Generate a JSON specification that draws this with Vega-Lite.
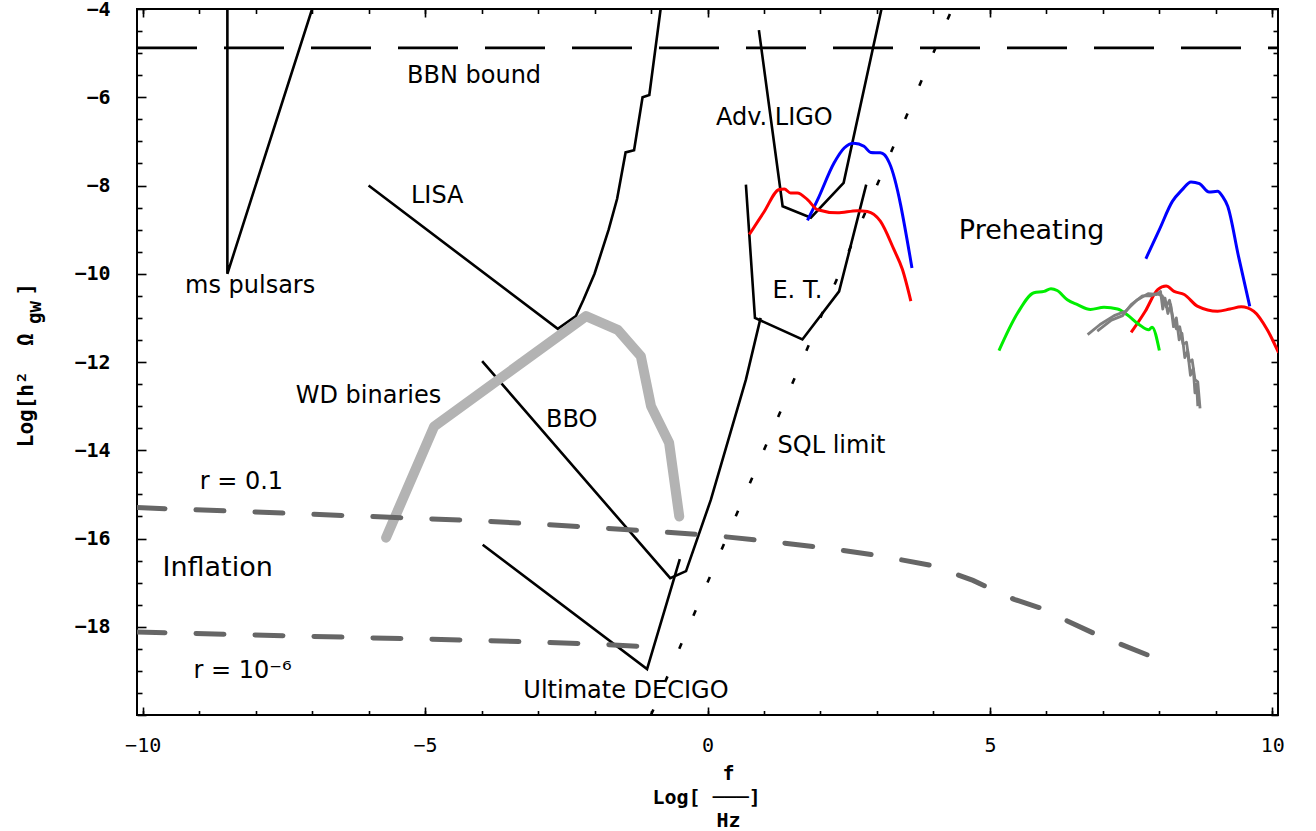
{
  "$schema": "https://vega.github.io/schema/vega-lite/v6.json",
  "width": 1141,
  "height": 706,
  "autosize": {"type": "none"},
  "padding": {"left": 137, "top": 9, "right": 38, "bottom": 116},
  "background": "white",
  "config": {
    "view": {"stroke": "black", "strokeWidth": 2},
    "axis": {"grid": false, "domain": false, "tickColor": "black", "tickWidth": 1.6, "labelColor": "black", "titleColor": "black",
      "titleFont": "DejaVu Sans Mono", "titleFontWeight": "bold"}
  },
  "datasets": {
    "curves": [
      {"s": "ms", "i": 0, "x": -8.5, "y": -4},
      {"s": "ms", "i": 1, "x": -8.5, "y": -10},
      {"s": "ms", "i": 2, "x": -7.0, "y": -4},

      {"s": "LISA", "i": 0, "x": -6.0, "y": -8.0},
      {"s": "LISA", "i": 1, "x": -2.65, "y": -11.25},
      {"s": "LISA", "i": 2, "x": -2.33, "y": -10.96},
      {"s": "LISA", "i": 3, "x": -2.2, "y": -10.6},
      {"s": "LISA", "i": 4, "x": -2.0, "y": -10.0},
      {"s": "LISA", "i": 5, "x": -1.75, "y": -9.0},
      {"s": "LISA", "i": 6, "x": -1.6, "y": -8.3},
      {"s": "LISA", "i": 7, "x": -1.45, "y": -7.25},
      {"s": "LISA", "i": 8, "x": -1.3, "y": -7.2},
      {"s": "LISA", "i": 9, "x": -1.15, "y": -6.0},
      {"s": "LISA", "i": 10, "x": -1.03, "y": -5.95},
      {"s": "LISA", "i": 11, "x": -0.83, "y": -4.0},

      {"s": "AdvLIGO", "i": 0, "x": 0.91, "y": -4.48},
      {"s": "AdvLIGO", "i": 1, "x": 1.33, "y": -8.47},
      {"s": "AdvLIGO", "i": 2, "x": 1.83, "y": -8.73},
      {"s": "AdvLIGO", "i": 3, "x": 2.41, "y": -7.94},
      {"s": "AdvLIGO", "i": 4, "x": 3.08, "y": -4.0},

      {"s": "ET", "i": 0, "x": 0.68, "y": -7.98},
      {"s": "ET", "i": 1, "x": 0.84, "y": -11.0},
      {"s": "ET", "i": 2, "x": 1.68, "y": -11.49},
      {"s": "ET", "i": 3, "x": 2.33, "y": -10.4},
      {"s": "ET", "i": 4, "x": 2.81, "y": -7.98},

      {"s": "BBO", "i": 0, "x": -3.99, "y": -11.98},
      {"s": "BBO", "i": 1, "x": -0.66, "y": -16.9},
      {"s": "BBO", "i": 2, "x": -0.38, "y": -16.74},
      {"s": "BBO", "i": 3, "x": 0.06, "y": -15.12},
      {"s": "BBO", "i": 4, "x": 0.68, "y": -12.4},
      {"s": "BBO", "i": 5, "x": 0.94, "y": -11.0},

      {"s": "DECIGO", "i": 0, "x": -3.98, "y": -16.14},
      {"s": "DECIGO", "i": 1, "x": -1.07, "y": -18.96},
      {"s": "DECIGO", "i": 2, "x": -0.49, "y": -16.47},

      {"s": "BBN", "i": 0, "x": -10.1, "y": -4.88},
      {"s": "BBN", "i": 1, "x": 10.1, "y": -4.88},

      {"s": "SQL", "i": 0, "x": -1.0, "y": -20.0},
      {"s": "SQL", "i": 1, "x": 4.33, "y": -4.0},

      {"s": "WD", "i": 0, "x": -5.69, "y": -15.98},
      {"s": "WD", "i": 1, "x": -4.84, "y": -13.46},
      {"s": "WD", "i": 2, "x": -2.15, "y": -10.96},
      {"s": "WD", "i": 3, "x": -1.59, "y": -11.27},
      {"s": "WD", "i": 4, "x": -1.18, "y": -11.87},
      {"s": "WD", "i": 5, "x": -1.0, "y": -13.0},
      {"s": "WD", "i": 6, "x": -0.68, "y": -13.83},
      {"s": "WD", "i": 7, "x": -0.5, "y": -15.5},

      {"s": "r01", "i": 0, "x": -10.1, "y": -15.3},
      {"s": "r01", "i": 1, "x": -8.0, "y": -15.4},
      {"s": "r01", "i": 2, "x": -6.0, "y": -15.5},
      {"s": "r01", "i": 3, "x": -4.0, "y": -15.6},
      {"s": "r01", "i": 4, "x": -2.0, "y": -15.75},
      {"s": "r01", "i": 5, "x": 0.0, "y": -15.92},
      {"s": "r01", "i": 6, "x": 1.0, "y": -16.05},
      {"s": "r01", "i": 7, "x": 2.0, "y": -16.2},
      {"s": "r01", "i": 8, "x": 3.0, "y": -16.38},
      {"s": "r01", "i": 9, "x": 4.0, "y": -16.62},
      {"s": "r01", "i": 10, "x": 4.7, "y": -16.95},
      {"s": "r01", "i": 11, "x": 5.43, "y": -17.38},
      {"s": "r01", "i": 12, "x": 5.93, "y": -17.59},
      {"s": "r01", "i": 13, "x": 6.37, "y": -17.87},
      {"s": "r01", "i": 14, "x": 6.86, "y": -18.16},
      {"s": "r01", "i": 15, "x": 7.32, "y": -18.4},
      {"s": "r01", "i": 16, "x": 7.85, "y": -18.67},

      {"s": "r1e6", "i": 0, "x": -10.1, "y": -18.12},
      {"s": "r1e6", "i": 1, "x": -6.0, "y": -18.25},
      {"s": "r1e6", "i": 2, "x": -4.0, "y": -18.31},
      {"s": "r1e6", "i": 3, "x": -2.0, "y": -18.39},
      {"s": "r1e6", "i": 4, "x": -1.24, "y": -18.44},

      {"s": "blue1", "i": 0, "x": 1.77, "y": -8.79},
      {"s": "blue1", "i": 1, "x": 1.95, "y": -8.32},
      {"s": "blue1", "i": 2, "x": 2.24, "y": -7.49},
      {"s": "blue1", "i": 3, "x": 2.42, "y": -7.15},
      {"s": "blue1", "i": 4, "x": 2.59, "y": -7.04},
      {"s": "blue1", "i": 5, "x": 2.77, "y": -7.11},
      {"s": "blue1", "i": 6, "x": 2.89, "y": -7.25},
      {"s": "blue1", "i": 7, "x": 3.06, "y": -7.26},
      {"s": "blue1", "i": 8, "x": 3.13, "y": -7.3},
      {"s": "blue1", "i": 9, "x": 3.22, "y": -7.49},
      {"s": "blue1", "i": 10, "x": 3.62, "y": -9.87},

      {"s": "red1", "i": 0, "x": 0.74, "y": -9.11},
      {"s": "red1", "i": 1, "x": 1.0, "y": -8.6},
      {"s": "red1", "i": 2, "x": 1.27, "y": -8.09},
      {"s": "red1", "i": 3, "x": 1.36, "y": -8.08},
      {"s": "red1", "i": 4, "x": 1.47, "y": -8.17},
      {"s": "red1", "i": 5, "x": 1.59, "y": -8.17},
      {"s": "red1", "i": 6, "x": 1.77, "y": -8.32},
      {"s": "red1", "i": 7, "x": 1.95, "y": -8.55},
      {"s": "red1", "i": 8, "x": 2.3, "y": -8.62},
      {"s": "red1", "i": 9, "x": 2.65, "y": -8.57},
      {"s": "red1", "i": 10, "x": 2.83, "y": -8.59},
      {"s": "red1", "i": 11, "x": 3.06, "y": -8.81},
      {"s": "red1", "i": 12, "x": 3.3, "y": -9.45},
      {"s": "red1", "i": 13, "x": 3.45, "y": -9.9},
      {"s": "red1", "i": 14, "x": 3.6, "y": -10.62},

      {"s": "blue2", "i": 0, "x": 7.76, "y": -9.66},
      {"s": "blue2", "i": 1, "x": 8.0, "y": -9.0},
      {"s": "blue2", "i": 2, "x": 8.23, "y": -8.36},
      {"s": "blue2", "i": 3, "x": 8.4, "y": -8.1},
      {"s": "blue2", "i": 4, "x": 8.56, "y": -7.92},
      {"s": "blue2", "i": 5, "x": 8.71, "y": -7.96},
      {"s": "blue2", "i": 6, "x": 8.88, "y": -8.15},
      {"s": "blue2", "i": 7, "x": 9.03, "y": -8.13},
      {"s": "blue2", "i": 8, "x": 9.12, "y": -8.25},
      {"s": "blue2", "i": 9, "x": 9.21, "y": -8.47},
      {"s": "blue2", "i": 10, "x": 9.4, "y": -9.6},
      {"s": "blue2", "i": 11, "x": 9.6, "y": -10.74},

      {"s": "red2", "i": 0, "x": 7.5, "y": -11.33},
      {"s": "red2", "i": 1, "x": 7.75, "y": -10.85},
      {"s": "red2", "i": 2, "x": 7.97, "y": -10.36},
      {"s": "red2", "i": 3, "x": 8.12, "y": -10.28},
      {"s": "red2", "i": 4, "x": 8.26, "y": -10.4},
      {"s": "red2", "i": 5, "x": 8.44, "y": -10.47},
      {"s": "red2", "i": 6, "x": 8.68, "y": -10.74},
      {"s": "red2", "i": 7, "x": 9.03, "y": -10.85},
      {"s": "red2", "i": 8, "x": 9.25, "y": -10.8},
      {"s": "red2", "i": 9, "x": 9.45, "y": -10.75},
      {"s": "red2", "i": 10, "x": 9.67, "y": -10.85},
      {"s": "red2", "i": 11, "x": 9.91, "y": -11.27},
      {"s": "red2", "i": 12, "x": 10.11, "y": -11.79},

      {"s": "green", "i": 0, "x": 5.16, "y": -11.74},
      {"s": "green", "i": 1, "x": 5.49, "y": -10.89},
      {"s": "green", "i": 2, "x": 5.78, "y": -10.43},
      {"s": "green", "i": 3, "x": 5.96, "y": -10.4},
      {"s": "green", "i": 4, "x": 6.08, "y": -10.34},
      {"s": "green", "i": 5, "x": 6.19, "y": -10.38},
      {"s": "green", "i": 6, "x": 6.37, "y": -10.59},
      {"s": "green", "i": 7, "x": 6.55, "y": -10.7},
      {"s": "green", "i": 8, "x": 6.78, "y": -10.81},
      {"s": "green", "i": 9, "x": 7.02, "y": -10.76},
      {"s": "green", "i": 10, "x": 7.26, "y": -10.8},
      {"s": "green", "i": 11, "x": 7.43, "y": -10.93},
      {"s": "green", "i": 12, "x": 7.64, "y": -11.15},
      {"s": "green", "i": 13, "x": 7.81, "y": -11.27},
      {"s": "green", "i": 14, "x": 7.87, "y": -11.21},
      {"s": "green", "i": 15, "x": 8.0, "y": -11.74},

      {"s": "gray1", "i": 0, "x": 6.73, "y": -11.38},
      {"s": "gray1", "i": 1, "x": 6.95, "y": -11.15},
      {"s": "gray1", "i": 2, "x": 7.2, "y": -10.95},
      {"s": "gray1", "i": 3, "x": 7.4, "y": -10.85},
      {"s": "gray1", "i": 4, "x": 7.6, "y": -10.6},
      {"s": "gray1", "i": 5, "x": 7.8, "y": -10.45},
      {"s": "gray1", "i": 6, "x": 7.95, "y": -10.47},
      {"s": "gray1", "i": 7, "x": 8.02, "y": -10.4},
      {"s": "gray1", "i": 8, "x": 8.06, "y": -10.8},
      {"s": "gray1", "i": 9, "x": 8.1, "y": -10.55},
      {"s": "gray1", "i": 10, "x": 8.15, "y": -10.9},
      {"s": "gray1", "i": 11, "x": 8.2, "y": -10.7},
      {"s": "gray1", "i": 12, "x": 8.25, "y": -11.2},
      {"s": "gray1", "i": 13, "x": 8.3, "y": -11.0},
      {"s": "gray1", "i": 14, "x": 8.35, "y": -11.5},
      {"s": "gray1", "i": 15, "x": 8.4, "y": -11.35},
      {"s": "gray1", "i": 16, "x": 8.45, "y": -11.9},
      {"s": "gray1", "i": 17, "x": 8.5, "y": -11.75},
      {"s": "gray1", "i": 18, "x": 8.55, "y": -12.3},
      {"s": "gray1", "i": 19, "x": 8.6, "y": -12.15},
      {"s": "gray1", "i": 20, "x": 8.63, "y": -12.7},
      {"s": "gray1", "i": 21, "x": 8.66, "y": -12.5},
      {"s": "gray1", "i": 22, "x": 8.68, "y": -13.0},

      {"s": "gray2", "i": 0, "x": 6.9, "y": -11.3},
      {"s": "gray2", "i": 1, "x": 7.15, "y": -11.05},
      {"s": "gray2", "i": 2, "x": 7.35, "y": -10.95},
      {"s": "gray2", "i": 3, "x": 7.5, "y": -10.7},
      {"s": "gray2", "i": 4, "x": 7.7, "y": -10.5},
      {"s": "gray2", "i": 5, "x": 7.85, "y": -10.5},
      {"s": "gray2", "i": 6, "x": 7.95, "y": -10.45},
      {"s": "gray2", "i": 7, "x": 8.05, "y": -10.5},
      {"s": "gray2", "i": 8, "x": 8.12, "y": -10.75},
      {"s": "gray2", "i": 9, "x": 8.18, "y": -10.6},
      {"s": "gray2", "i": 10, "x": 8.24, "y": -11.0},
      {"s": "gray2", "i": 11, "x": 8.3, "y": -11.25},
      {"s": "gray2", "i": 12, "x": 8.36, "y": -11.2},
      {"s": "gray2", "i": 13, "x": 8.42, "y": -11.6},
      {"s": "gray2", "i": 14, "x": 8.48, "y": -11.55},
      {"s": "gray2", "i": 15, "x": 8.53, "y": -12.0},
      {"s": "gray2", "i": 16, "x": 8.58, "y": -11.95},
      {"s": "gray2", "i": 17, "x": 8.63, "y": -12.4},
      {"s": "gray2", "i": 18, "x": 8.68, "y": -12.45},
      {"s": "gray2", "i": 19, "x": 8.72, "y": -13.05}
    ],
    "labels": [
      {"label": "BBN bound", "kind": "detector", "x": -5.32, "y": -5.67},
      {"label": "LISA", "kind": "detector", "x": -5.25, "y": -8.4},
      {"label": "ms pulsars", "kind": "detector", "x": -9.25, "y": -10.43},
      {"label": "Adv. LIGO", "kind": "detector", "x": 0.15, "y": -6.64},
      {"label": "E. T.", "kind": "detector", "x": 1.15, "y": -10.55},
      {"label": "WD binaries", "kind": "detector", "x": -7.29, "y": -12.94},
      {"label": "BBO", "kind": "detector", "x": -2.86, "y": -13.48},
      {"label": "SQL limit", "kind": "detector", "x": 1.24, "y": -14.07},
      {"label": "r = 0.1", "kind": "detector", "x": -8.99, "y": -14.87},
      {"label": "r = 10⁻⁶", "kind": "detector", "x": -9.1, "y": -19.16},
      {"label": "Ultimate DECIGO", "kind": "detector", "x": -3.26, "y": -19.61},
      {"label": "Preheating", "kind": "region", "x": 4.45, "y": -9.21},
      {"label": "Inflation", "kind": "region", "x": -9.65, "y": -16.84}
    ]
  },
  "resolve": {"axis": {"x": "independent", "y": "independent"}},
  "layer": [
    {
      "data": {"name": "curves"},
      "transform": [{"filter": {"field": "s", "oneOf": ["ms", "LISA", "AdvLIGO", "ET", "BBO", "DECIGO"]}}],
      "mark": {"type": "line", "color": "black", "strokeWidth": 2.6, "clip": true, "strokeJoin": "miter"},
      "encoding": {
        "x": {"field": "x", "type": "quantitative", "scale": {"domain": [-10.1, 10.1], "nice": false, "zero": false},
          "axis": {"orient": "bottom", "values": [-10, -5, 0, 5, 10], "format": "d", "ticks": false, "labelPadding": 20, "labelFlush": false,
            "labelFont": "DejaVu Sans Mono", "labelFontSize": 20, "labelFontWeight": "normal",
            "title": "Log[\u00a0───]", "titleFontSize": 20, "titleAlign": "left", "titleX": 515, "titleY": 82, "titleBaseline": "middle"}},
        "y": {"field": "y", "type": "quantitative", "scale": {"domain": [-20, -4], "nice": false, "zero": false},
          "axis": {"orient": "left", "values": [-4, -6, -8, -10, -12, -14, -16, -18], "format": "d", "ticks": false, "labelPadding": 27, "labelFlush": false,
            "labelFont": "DejaVu Sans Mono", "labelFontSize": 20, "labelFontWeight": "bold",
            "title": "Log[h²\u00a0\u00a0Ω\u00a0\u00a0\u00a0]", "titleFontSize": 21, "titleAlign": "left",
            "titleX": -105, "titleY": 437.7, "titleBaseline": "alphabetic", "titleAngle": -90}},
        "detail": {"field": "s", "type": "nominal"},
        "order": {"field": "i", "type": "quantitative"}
      }
    },
    {
      "data": {"name": "curves"},
      "transform": [{"filter": {"field": "s", "equal": "BBN"}}],
      "mark": {"type": "line", "color": "black", "strokeWidth": 2.6, "strokeDash": [60, 27], "clip": true},
      "encoding": {
        "x": {"field": "x", "type": "quantitative", "scale": {"domain": [-10.1, 10.1], "nice": false, "zero": false},
          "axis": {"orient": "bottom", "values": [-10, -5, 0, 5, 10], "labels": false, "tickSize": -8,
            "title": "f", "titleFontSize": 20, "titleAlign": "center", "titleX": 591, "titleY": 58, "titleBaseline": "middle"}},
        "y": {"field": "y", "type": "quantitative", "scale": {"domain": [-20, -4], "nice": false, "zero": false},
          "axis": {"orient": "left", "values": [-20, -18, -16, -14, -12, -10, -8, -6, -4], "labels": false, "tickSize": -9,
            "title": "gw", "titleFontSize": 19, "titleAlign": "center", "titleX": -97, "titleY": 303, "titleBaseline": "alphabetic", "titleAngle": -90}},
        "order": {"field": "i", "type": "quantitative"}
      }
    },
    {
      "data": {"name": "curves"},
      "transform": [{"filter": {"field": "s", "equal": "SQL"}}],
      "mark": {"type": "line", "color": "black", "strokeWidth": 2.6, "strokeDash": [6, 30], "clip": true},
      "encoding": {
        "x": {"field": "x", "type": "quantitative", "scale": {"domain": [-10.1, 10.1], "nice": false, "zero": false},
          "axis": {"orient": "bottom", "values": [-10, -9, -8, -7, -6, -5, -4, -3, -2, -1, 0, 1, 2, 3, 4, 5, 6, 7, 8, 9, 10], "labels": false, "tickSize": -4.5,
            "title": "Hz", "titleFontSize": 20, "titleAlign": "center", "titleX": 591, "titleY": 105, "titleBaseline": "middle"}},
        "y": {"field": "y", "type": "quantitative", "scale": {"domain": [-20, -4], "nice": false, "zero": false},
          "axis": {"orient": "left", "values": [-19.5, -19, -18.5, -17.5, -17, -16.5, -15.5, -15, -14.5, -13.5, -13, -12.5, -11.5, -11, -10.5, -9.5, -9, -8.5, -7.5, -7, -6.5, -5.5, -5, -4.5], "labels": false, "tickSize": -5, "title": null}},
        "order": {"field": "i", "type": "quantitative"}
      }
    },
    {
      "data": {"name": "curves"},
      "transform": [{"filter": {"field": "s", "equal": "WD"}}],
      "mark": {"type": "line", "color": "#b3b3b3", "strokeWidth": 10, "strokeCap": "round", "strokeJoin": "round", "clip": true},
      "encoding": {
        "x": {"field": "x", "type": "quantitative", "scale": {"domain": [-10.1, 10.1], "nice": false, "zero": false},
          "axis": {"orient": "top", "values": [-10, -5, 0, 5, 10], "labels": false, "tickSize": -8, "title": null}},
        "y": {"field": "y", "type": "quantitative", "scale": {"domain": [-20, -4], "nice": false, "zero": false},
          "axis": {"orient": "right", "values": [-20, -18, -16, -14, -12, -10, -8, -6, -4], "labels": false, "tickSize": -7, "title": null}},
        "order": {"field": "i", "type": "quantitative"}
      }
    },
    {
      "data": {"name": "curves"},
      "transform": [{"filter": {"field": "s", "oneOf": ["r01", "r1e6"]}}],
      "mark": {"type": "line", "color": "#666666", "strokeWidth": 5, "strokeDash": [28, 31], "strokeCap": "round", "clip": true},
      "encoding": {
        "x": {"field": "x", "type": "quantitative", "scale": {"domain": [-10.1, 10.1], "nice": false, "zero": false},
          "axis": {"orient": "top", "values": [-10, -9, -8, -7, -6, -5, -4, -3, -2, -1, 0, 1, 2, 3, 4, 5, 6, 7, 8, 9, 10], "labels": false, "tickSize": -4.5, "title": null}},
        "y": {"field": "y", "type": "quantitative", "scale": {"domain": [-20, -4], "nice": false, "zero": false},
          "axis": {"orient": "right", "values": [-19.5, -19, -18.5, -17.5, -17, -16.5, -15.5, -15, -14.5, -13.5, -13, -12.5, -11.5, -11, -10.5, -9.5, -9, -8.5, -7.5, -7, -6.5, -5.5, -5, -4.5], "labels": false, "tickSize": -5, "title": null}},
        "detail": {"field": "s", "type": "nominal"},
        "order": {"field": "i", "type": "quantitative"}
      }
    },
    {
      "data": {"name": "curves"},
      "transform": [{"filter": {"field": "s", "oneOf": ["blue1", "red1", "blue2", "red2", "green"]}}],
      "mark": {"type": "line", "strokeWidth": 3, "strokeJoin": "round", "interpolate": "monotone", "clip": true},
      "encoding": {
        "x": {"field": "x", "type": "quantitative", "scale": {"domain": [-10.1, 10.1], "nice": false, "zero": false}, "axis": null},
        "y": {"field": "y", "type": "quantitative", "scale": {"domain": [-20, -4], "nice": false, "zero": false}, "axis": null},
        "color": {"field": "s", "type": "nominal", "legend": null,
          "scale": {"domain": ["blue1", "red1", "blue2", "red2", "green", "gray1", "gray2"],
            "range": ["#0000ff", "#ff0000", "#0000ff", "#ff0000", "#00ee00", "#808080", "#808080"]}},
        "detail": {"field": "s", "type": "nominal"},
        "order": {"field": "i", "type": "quantitative"}
      }
    },
    {
      "data": {"name": "curves"},
      "transform": [{"filter": {"field": "s", "oneOf": ["gray1", "gray2"]}}],
      "mark": {"type": "line", "strokeWidth": 2.8, "strokeJoin": "round", "clip": true},
      "encoding": {
        "x": {"field": "x", "type": "quantitative", "scale": {"domain": [-10.1, 10.1], "nice": false, "zero": false}, "axis": null},
        "y": {"field": "y", "type": "quantitative", "scale": {"domain": [-20, -4], "nice": false, "zero": false}, "axis": null},
        "color": {"field": "s", "type": "nominal", "legend": null,
          "scale": {"domain": ["blue1", "red1", "blue2", "red2", "green", "gray1", "gray2"],
            "range": ["#0000ff", "#ff0000", "#0000ff", "#ff0000", "#00ee00", "#808080", "#808080"]}},
        "detail": {"field": "s", "type": "nominal"},
        "order": {"field": "i", "type": "quantitative"}
      }
    },
    {
      "data": {"name": "labels"},
      "transform": [{"filter": {"field": "kind", "equal": "detector"}}],
      "mark": {"type": "text", "font": "DejaVu Sans", "fontSize": 24, "align": "left", "baseline": "alphabetic", "color": "black"},
      "encoding": {
        "x": {"field": "x", "type": "quantitative", "scale": {"domain": [-10.1, 10.1], "nice": false, "zero": false}, "axis": null},
        "y": {"field": "y", "type": "quantitative", "scale": {"domain": [-20, -4], "nice": false, "zero": false}, "axis": null},
        "text": {"field": "label", "type": "nominal"}
      }
    },
    {
      "data": {"name": "labels"},
      "transform": [{"filter": {"field": "kind", "equal": "region"}}],
      "mark": {"type": "text", "font": "DejaVu Sans", "fontSize": 27, "align": "left", "baseline": "alphabetic", "color": "black"},
      "encoding": {
        "x": {"field": "x", "type": "quantitative", "scale": {"domain": [-10.1, 10.1], "nice": false, "zero": false}, "axis": null},
        "y": {"field": "y", "type": "quantitative", "scale": {"domain": [-20, -4], "nice": false, "zero": false}, "axis": null},
        "text": {"field": "label", "type": "nominal"}
      }
    }
  ]
}
